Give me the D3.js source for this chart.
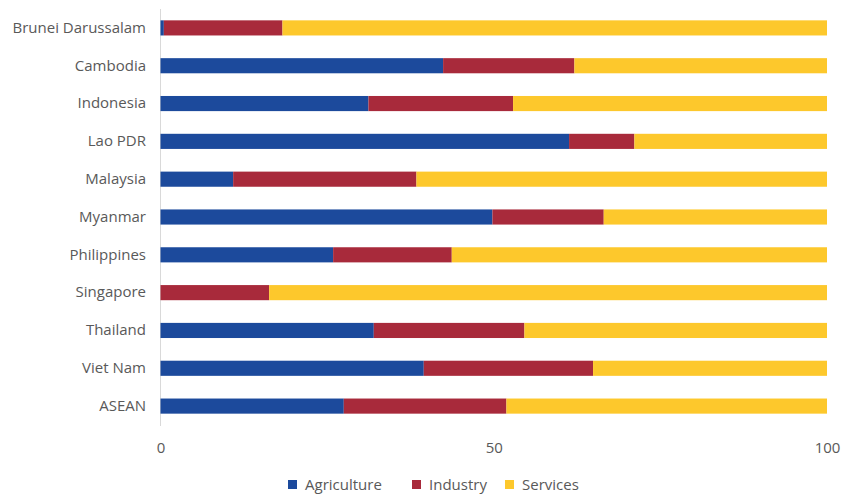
<!DOCTYPE html>
<html><head><meta charset="utf-8">
<script src="https://cdn.jsdelivr.net/npm/d3@7"></script>
<style>body{margin:0;background:#fff}text{font-family:"Open Sans",sans-serif;fill:#595959}</style>
</head><body><svg id="c" width="842" height="495"></svg>
<script>
const categories = ["Brunei Darussalam","Cambodia","Indonesia","Lao PDR","Malaysia","Myanmar","Philippines","Singapore","Thailand","Viet Nam","ASEAN"];
const agriculture = [0.5, 42.4, 31.2, 61.3, 10.9, 49.8, 25.9, 0.0, 32.0, 39.5, 27.5];
const industry    = [17.8, 19.7, 21.7, 9.8, 27.5, 16.7, 17.8, 16.3, 22.6, 25.4, 24.4];
const services    = [81.7, 37.9, 47.1, 28.9, 61.6, 33.5, 56.3, 83.7, 45.4, 35.1, 48.1];
const seriesNames = ["Agriculture","Industry","Services"];
const colors = ["#1c4a9c","#a82a3b","#fdc82c"];
const ticks = [0, 50, 100];

const svg = d3.select("#c");
const x = d3.scaleLinear().domain([0,100]).range([160.5, 827]);
const y = d3.scaleBand().domain(categories).range([9, 425]).paddingInner(0.6).paddingOuter(0.3);

const rows = categories.map((c,i)=>({cat:c, Agriculture:agriculture[i], Industry:industry[i], Services:services[i]}));
const stacked = d3.stack().keys(seriesNames)(rows);

svg.append("line").attr("x1",160.5).attr("x2",160.5).attr("y1",9).attr("y2",426).attr("stroke","#d9d9d9").attr("stroke-width",1);

stacked.forEach((s,k)=>{
  svg.append("g").selectAll("rect").data(s).join("rect")
    .attr("x",d=>x(d[0])).attr("width",d=>Math.max(0,x(d[1])-x(d[0])))
    .attr("y",d=>y(d.data.cat)).attr("height",y.bandwidth())
    .attr("fill",colors[k]);
});

const ya = svg.append("g").attr("transform","translate(146,0)")
  .call(d3.axisLeft(y).tickSize(0).tickPadding(0));
ya.select(".domain").remove();
ya.selectAll("text").style("font-size","15px").style("fill","#595959");

const xa = svg.append("g").attr("transform","translate(0,439)")
  .call(d3.axisBottom(x).tickValues(ticks).tickSize(0).tickPadding(0).tickFormat(d3.format("d")));
xa.select(".domain").remove();
xa.selectAll("text").style("font-size","15px").style("fill","#595959").attr("dy","0.9em");

const lg = svg.append("g").attr("transform","translate(0,485)");
const legX = [288, 412, 505];
seriesNames.forEach((n,i)=>{
  lg.append("rect").attr("x",legX[i]).attr("y",-5).attr("width",9).attr("height",9).attr("fill",colors[i]);
  lg.append("text").attr("x",legX[i]+17).attr("y",0).attr("dy","0.35em").style("font-size","15px").text(n);
});
</script></body></html>
